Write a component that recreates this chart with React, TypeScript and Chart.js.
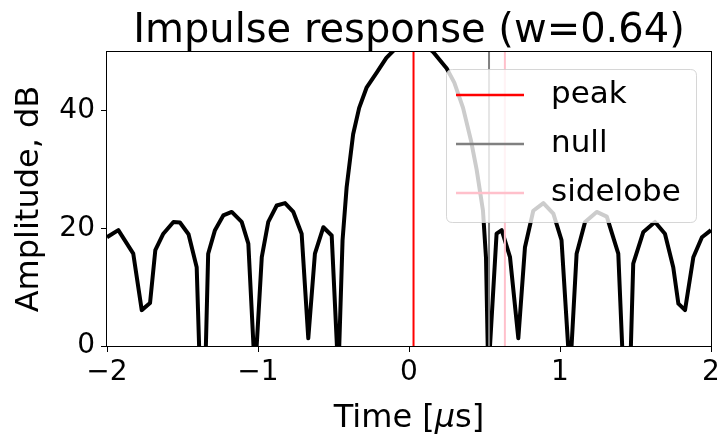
import React, { useEffect, useRef } from "react";
import { Chart, registerables } from "chart.js";

Chart.register(...registerables);

const TITLE = "Impulse response (w=0.64)";
const X_LABEL_PARTS = ["Time [", "\u03bc", "s]"];
const Y_LABEL = "Amplitude, dB";

const X_TICKS = [-2, -1, 0, 1, 2];
const Y_TICKS = [0, 20, 40];

const TIME = [
  -2.0, -1.925, -1.826, -1.77, -1.715, -1.68, -1.627, -1.56, -1.517, -1.46,
  -1.406, -1.384, -1.35, -1.33, -1.285, -1.23, -1.174, -1.108, -1.064, -1.02,
  -0.975, -0.932, -0.876, -0.821, -0.766, -0.711, -0.667, -0.623, -0.567, -0.512,
  -0.468, -0.44, -0.413, -0.37, -0.33, -0.28, -0.214, -0.15, -0.1, -0.04,
  0.03, 0.1, 0.16, 0.25, 0.3, 0.358, 0.41, 0.448, 0.49, 0.51,
  0.525, 0.58, 0.614, 0.669, 0.724, 0.768, 0.823, 0.89, 0.956, 1.01,
  1.066, 1.11, 1.166, 1.243, 1.31, 1.386, 1.42, 1.464, 1.485, 1.552,
  1.629, 1.695, 1.75, 1.784, 1.828, 1.883, 1.94, 2.0,
];
const AMPLITUDE = [
  18.5, 19.7, 15.7, 6.1, 7.3, 16.3, 19.1, 21.1, 21.0, 19.0,
  13.4, -5, -5, 15.7, 19.7, 22.2, 22.8, 21.1, 17.4, -5,
  15.1, 21.1, 23.9, 24.3, 22.8, 19.1, 1.3, 15.7, 20.2, 18.8,
  -5, 18.0, 27.0, 36.0, 40.5, 44.0, 46.5, 49.0, 50.3, 51.5,
  52.0, 51.3, 50.0, 47.2, 44.8, 40.5, 35.0, 30.0, 23.0, 15.0,
  -5, 19.1, 19.7, 15.1, 1.3, 16.8, 23.0, 24.3, 22.5, 18.0,
  -5, 15.7, 21.1, 22.8, 22.0, 15.7, -5, -5, 14.0, 19.4,
  21.1, 19.1, 13.4, 7.2, 6.1, 15.1, 18.5, 19.7,
];

const MARKER_LABELS = ["peak", "null", "sidelobe"];
const MARKER_TIMES = [0.03, 0.53, 0.635];
const MARKER_COLORS = ["#ff0000", "#808080", "#ffc0cb"];

const FONT = "'DejaVu Sans', sans-serif";

const fmt = (v: number) => (v < 0 ? "\u2212" + Math.abs(v) : String(v));

const framePlugin = {
  id: "frameAndLegend",
  afterDatasetsDraw(chart: any) {
    const { ctx, chartArea } = chart;
    const { left, right, top, bottom } = chartArea;
    const cx = (left + right) / 2;
    ctx.save();
    // frame
    ctx.strokeStyle = "#000";
    ctx.lineWidth = 1;
    ctx.strokeRect(Math.round(left) - 0.5, Math.round(top) - 0.5, Math.round(right - left) + 1, Math.round(bottom - top) + 1);

    // title
    ctx.fillStyle = "#000";
    ctx.font = `40px ${FONT}`;
    ctx.textAlign = "center";
    ctx.textBaseline = "alphabetic";
    ctx.fillText(TITLE, cx, 42);

    // x axis label with italic mu
    ctx.font = `32px ${FONT}`;
    const w0 = ctx.measureText(X_LABEL_PARTS[0]).width;
    const w2 = ctx.measureText(X_LABEL_PARTS[2]).width;
    ctx.font = `italic 32px ${FONT}`;
    const w1 = ctx.measureText(X_LABEL_PARTS[1]).width;
    let x = cx - (w0 + w1 + w2) / 2;
    ctx.textAlign = "left";
    ctx.font = `32px ${FONT}`;
    ctx.fillText(X_LABEL_PARTS[0], x, 426.5);
    x += w0;
    ctx.font = `italic 32px ${FONT}`;
    ctx.fillText(X_LABEL_PARTS[1], x, 426.5);
    x += w1;
    ctx.font = `32px ${FONT}`;
    ctx.fillText(X_LABEL_PARTS[2], x, 426.5);

    // legend
    const bx = 446.5, by = 69.5, bw = 250, bh = 153, r = 6;
    ctx.beginPath();
    ctx.moveTo(bx + r, by);
    ctx.lineTo(bx + bw - r, by);
    ctx.quadraticCurveTo(bx + bw, by, bx + bw, by + r);
    ctx.lineTo(bx + bw, by + bh - r);
    ctx.quadraticCurveTo(bx + bw, by + bh, bx + bw - r, by + bh);
    ctx.lineTo(bx + r, by + bh);
    ctx.quadraticCurveTo(bx, by + bh, bx, by + bh - r);
    ctx.lineTo(bx, by + r);
    ctx.quadraticCurveTo(bx, by, bx + r, by);
    ctx.closePath();
    ctx.fillStyle = "rgba(255,255,255,0.8)";
    ctx.fill();
    ctx.strokeStyle = "rgba(204,204,204,0.8)";
    ctx.lineWidth = 1;
    ctx.stroke();

    ctx.font = `31px ${FONT}`;
    ctx.textBaseline = "middle";
    ctx.textAlign = "left";
    MARKER_LABELS.forEach((label, i) => {
      const y = 95 + i * 49;
      ctx.strokeStyle = MARKER_COLORS[i];
      ctx.lineWidth = 2.5;
      ctx.beginPath();
      ctx.moveTo(456, y);
      ctx.lineTo(524, y);
      ctx.stroke();
      ctx.fillStyle = "#000";
      ctx.fillText(label, 551, y);
    });
    ctx.restore();
  },
};

export default function App() {
  const canvasRef = useRef<HTMLCanvasElement | null>(null);

  useEffect(() => {
    document.body.style.margin = "0";
    const canvas = canvasRef.current;
    if (!canvas) return;

    const markerSets = MARKER_TIMES.map((t, i) => ({
      label: MARKER_LABELS[i],
      data: [
        { x: t, y: -10 },
        { x: t, y: 60 },
      ],
      borderColor: MARKER_COLORS[i],
      borderWidth: 2,
      pointRadius: 0,
      clip: 0,
    }));

    const chart = new Chart(canvas, {
      type: "line",
      data: {
        datasets: [
          ...markerSets,
          {
            label: "response",
            data: TIME.map((t, i) => ({ x: t, y: AMPLITUDE[i] })),
            borderColor: "#000",
            borderWidth: 4,
            pointRadius: 0,
            tension: 0,
            clip: 0,
            borderJoinStyle: "round",
          },
        ],
      } as any,
      options: {
        animation: false,
        responsive: false,
        maintainAspectRatio: false,
        layout: { padding: { left: 0, right: 15, top: 52, bottom: 0 } },
        plugins: {
          legend: { display: false },
          tooltip: { enabled: false },
          title: { display: false },
        },
        scales: {
          x: {
            type: "linear",
            min: -2,
            max: 2,
            afterFit: (s: any) => {
              s.height = 92;
            },
            afterBuildTicks: (s: any) => {
              s.ticks = X_TICKS.map((v) => ({ value: v }));
            },
            border: { display: false },
            grid: {
              display: true,
              drawOnChartArea: false,
              drawTicks: true,
              tickLength: 6,
              tickColor: "#000",
              tickWidth: 1,
            },
            ticks: {
              color: "#000",
              font: { family: FONT, size: 28 },
              padding: 4,
              maxRotation: 0,
              callback: (v: any) => fmt(Number(v)),
            },
            title: { display: false },
          },
          y: {
            type: "linear",
            min: 0,
            max: 50,
            afterFit: (s: any) => {
              s.width = 107;
            },
            afterBuildTicks: (s: any) => {
              s.ticks = Y_TICKS.map((v) => ({ value: v }));
            },
            border: { display: false },
            grid: {
              display: true,
              drawOnChartArea: false,
              drawTicks: true,
              tickLength: 6,
              tickColor: "#000",
              tickWidth: 1,
            },
            ticks: {
              color: "#000",
              font: { family: FONT, size: 28 },
              padding: 6,
              callback: (v: any) => fmt(Number(v)),
            },
            title: {
              display: true,
              text: Y_LABEL,
              color: "#000",
              font: { family: FONT, size: 32 },
              padding: { top: 10, bottom: 0 },
            },
          },
        },
      },
      plugins: [framePlugin],
    });

    return () => chart.destroy();
  }, []);

  return (
    <div style={{ width: 726, height: 438 }}>
      <canvas ref={canvasRef} width={726} height={438} style={{ display: "block" }} />
    </div>
  );
}
